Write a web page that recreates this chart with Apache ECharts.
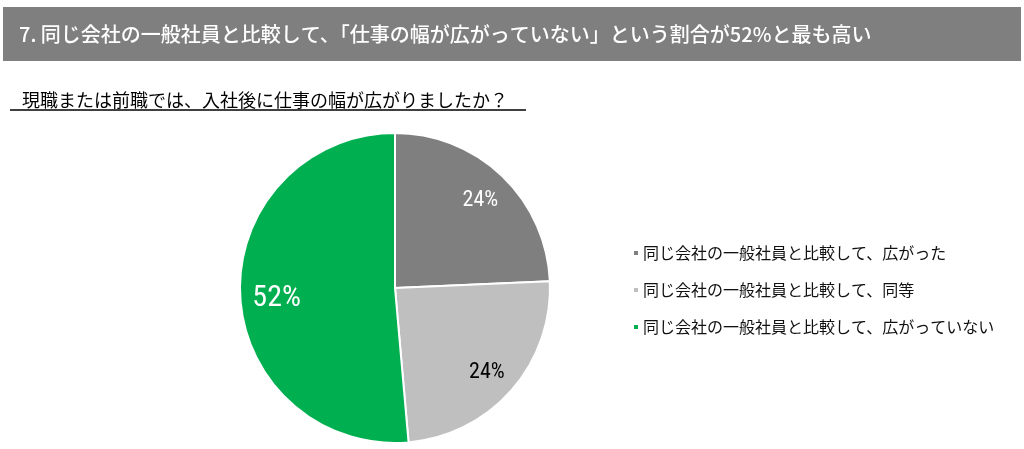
<!DOCTYPE html>
<html><head><meta charset="utf-8">
<script src="https://cdn.jsdelivr.net/npm/echarts@6/dist/echarts.min.js"></script>
<style>html,body{margin:0;padding:0;background:#fff}#c{width:1024px;height:449px}</style>
</head><body><div id="c"></div>
<script>
const categories = ['同じ会社の一般社員と比較して、広がった', '同じ会社の一般社員と比較して、同等', '同じ会社の一般社員と比較して、広がっていない'];
const values = [24.4, 24.4, 51.6];
const colors = ['#7f7f7f', '#bfbfbf', '#00b050'];
const labelColors = ['#ffffff', '#000000', '#ffffff'];
const labelSizes = [22, 22, 30];
const labelOffsets = [[0, 2], [-1, 3], [5, 5]];
const titleText = '7. 同じ会社の一般社員と比較して、「仕事の幅が広がっていない」という割合が52%と最も高い';
const subtitleText = '現職または前職では、入社後に仕事の幅が広がりましたか？';

const font = '"Noto Sans CJK JP", "Noto Sans", sans-serif';
const numFont = '"Liberation Sans Narrow", "Arial Narrow", "Roboto Condensed", Arial, sans-serif';
const chart = echarts.init(document.getElementById('c'));
const pieData = categories.map((n, i) => ({ name: n, value: values[i], itemStyle: { color: colors[i] } }));
const labelData = categories.map((n, i) => ({
  name: n, value: values[i],
  label: { color: labelColors[i], fontSize: labelSizes[i], offset: labelOffsets[i] }
}));
chart.setOption({
  animation: false,
  graphic: [
    { type: 'rect', shape: { x: 3, y: 7, width: 1018, height: 54 }, style: { fill: '#7f7f7f' }, z: 0 },
    { type: 'line', shape: { x1: 10, y1: 110, x2: 526, y2: 110 }, style: { stroke: '#000', lineWidth: 1.5 } }
  ],
  title: [
    { text: titleText, left: 14, top: 19, textStyle: { color: '#fff', fontSize: 20, fontWeight: 500, fontFamily: font } },
    { text: subtitleText, left: 17, top: 86, textStyle: { color: '#000', fontSize: 18, fontWeight: 'normal', fontFamily: font } }
  ],
  legend: {
    orient: 'vertical', left: 627, top: 240, itemWidth: 6, itemHeight: 6, itemGap: 21, icon: 'rect',
    data: categories,
    textStyle: { fontSize: 16, color: '#111', fontFamily: font, padding: [0, 0, 0, -1] }
  },
  series: [
    {
      type: 'pie', center: [395, 288], radius: [0, 155], startAngle: 90, clockwise: true,
      itemStyle: { borderColor: '#fff', borderWidth: 2 },
      label: { show: false }, labelLine: { show: false },
      emphasis: { disabled: true },
      data: pieData
    },
    {
      type: 'pie', center: [395, 288], radius: [86, 155], startAngle: 90, clockwise: true, silent: true,
      itemStyle: { color: 'rgba(0,0,0,0)', borderWidth: 0 },
      label: { show: true, position: 'inside', formatter: p => Math.round(p.value) + '%', fontFamily: numFont, fontWeight: 'normal' },
      labelLine: { show: false },
      emphasis: { disabled: true },
      legendHoverLink: false,
      data: labelData
    }
  ]
});
</script></body></html>
